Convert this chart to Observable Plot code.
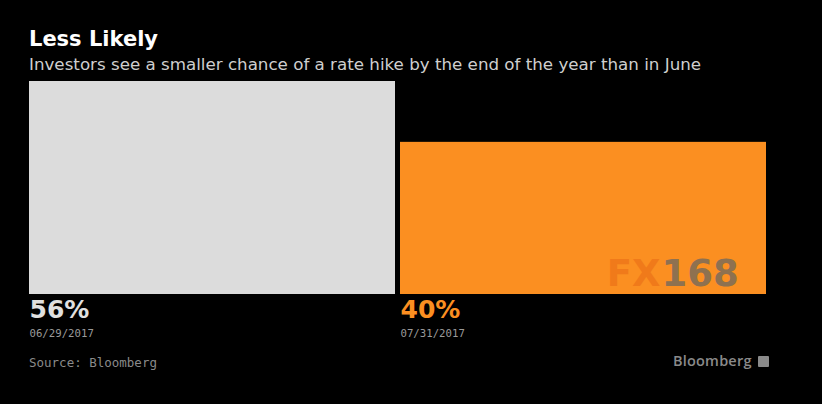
<!DOCTYPE html>
<html><head><meta charset="utf-8">
<script src="https://cdn.jsdelivr.net/npm/d3@7"></script>
<script src="https://cdn.jsdelivr.net/npm/@observablehq/plot@0.6"></script>
<style>
html,body{margin:0;padding:0;background:#000;}
#wrap{position:relative;width:822px;height:404px;overflow:hidden;background:#000;font-family:"DejaVu Sans",sans-serif;}
.t{position:absolute;white-space:nowrap;line-height:1;}
#title{left:29px;top:29px;font-size:21px;font-weight:bold;color:#fff;}
#sub{left:29px;top:56px;font-size:16.7px;color:#cfcfcf;}
#chart{position:absolute;left:0;top:78px;}
#src{left:29px;top:357px;font-family:"DejaVu Sans Mono",monospace;font-size:12.5px;color:#8a8a8a;}
#logo{left:673px;top:354px;font-size:14.5px;font-weight:600;font-family:"Open Sans",sans-serif;color:#8a8a8a;letter-spacing:0.2px;}
#logo span{display:inline-block;width:11px;height:11px;background:#8a8a8a;margin-left:6px;vertical-align:-1px;border-radius:1px;}
</style></head>
<body><div id="wrap">
<div class="t" id="title">Less Likely</div>
<div class="t" id="sub">Investors see a smaller chance of a rate hike by the end of the year than in June</div>
<div id="chart"></div>
<div class="t" id="src">Source: Bloomberg</div>
<div class="t" id="logo">Bloomberg<span></span></div>
</div>
<script>
const dates = ["06/29/2017", "07/31/2017"];
const values = [56, 40];
const labels = ["56%", "40%"];
const barColors = ["#dcdcdc", "#fb8f21"];
const labelColors = ["#e0e0e0", "#fb8f21"];

const data = dates.map((d, i) => ({date: d, value: values[i], label: labels[i], bar: barColors[i], lab: labelColors[i]}));

const W = 822, H = 266, ml = 29, mr = 56, mt = 3, mb = 50, pad = 0.0135;
const step = (W - ml - mr) / (dates.length - pad);
const bw = step * (1 - pad);

const chart = Plot.plot({
  width: W, height: H,
  marginLeft: ml, marginRight: mr, marginTop: mt, marginBottom: mb,
  style: {background: "transparent", overflow: "visible"},
  x: {domain: dates, paddingInner: pad, paddingOuter: 0, axis: null},
  y: {domain: [0, 56], axis: null},
  marks: [
    Plot.barY(data, {x: "date", y: "value", fill: "bar"}),
    Plot.text(data.slice(1), {x: "date", frameAnchor: "bottom", text: () => "FX", dx: 77, dy: -9, textAnchor: "end", fill: "#f07a1a", fontSize: 37, fontWeight: "bold", fontFamily: "DejaVu Sans", letterSpacing: 5}),
    Plot.text(data.slice(1), {x: "date", frameAnchor: "bottom", text: () => "168", dx: 78, dy: -9, textAnchor: "start", fill: "#8e7150", fontSize: 37, fontWeight: "bold", fontFamily: "DejaVu Sans", letterSpacing: 5}),
    Plot.text(data, {x: "date", y: 0, text: "label", fill: "lab", textAnchor: "start", lineAnchor: "top", dx: -bw / 2, dy: 6, fontSize: 25, fontWeight: "bold", fontFamily: "DejaVu Sans"}),
    Plot.text(data, {x: "date", y: 0, text: "date", fill: "#9a9a9a", textAnchor: "start", lineAnchor: "top", dx: -bw / 2, dy: 35, fontSize: 10.7, fontFamily: "DejaVu Sans Mono"})
  ]
});
document.getElementById("chart").appendChild(chart);
</script>
</body></html>
